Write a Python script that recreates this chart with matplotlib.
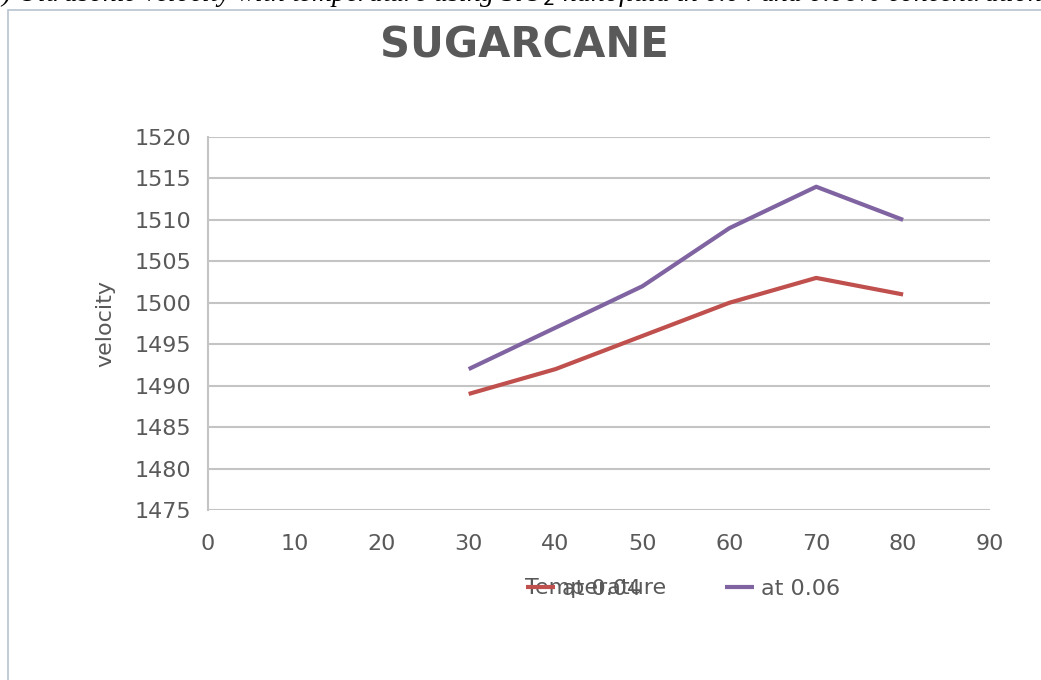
import matplotlib
matplotlib.use("Agg")
import matplotlib.pyplot as plt
from matplotlib.patches import Rectangle

temperature = [30, 40, 50, 60, 70, 80]
vel_004 = [1489, 1492, 1496, 1500, 1503, 1501]
vel_006 = [1492, 1497, 1502, 1509, 1514, 1510]
series_labels = ["at 0.04", "at 0.06"]
x_ticks = [0, 10, 20, 30, 40, 50, 60, 70, 80, 90]
y_ticks = [1475, 1480, 1485, 1490, 1495, 1500, 1505, 1510, 1515, 1520]

TXT = "#595959"
GRID = "#c4c4c4"

fig = plt.figure(figsize=(10.41, 6.8), dpi=100)
fig.patch.set_facecolor("white")

# chart border
fig.add_artist(Rectangle((8/1041, -0.01), 1.1, (680-10)/680 + 0.01, transform=fig.transFigure,
                         fill=False, edgecolor="#b8c4d0", linewidth=1.2))

# cropped caption at top
fig.text(0.0, 1.0 + 6/680, ") Ultrasonic velocity with temperature using SiO$_2$ nanofluid in 0.04 and 0.06% concentration",
         family="Liberation Serif", style="italic", fontsize=20, ha="left", va="center", color="black")

ax = fig.add_axes([208/1041, (680-510)/680, (990-208)/1041, (510-137)/680])
l1, = ax.plot(temperature, vel_004, color="#C0504D", linewidth=3, solid_capstyle="butt")
l2, = ax.plot(temperature, vel_006, color="#8064A2", linewidth=3, solid_capstyle="butt")

ax.set_xlim(0, 90)
ax.set_ylim(1475, 1520)
ax.set_xticks(x_ticks)
ax.set_yticks(y_ticks)
ax.grid(axis="y", color=GRID, linewidth=1.5)
ax.set_axisbelow(True)
for s in ["top", "right", "bottom"]:
    ax.spines[s].set_visible(False)
ax.spines["left"].set_color(GRID)
ax.spines["left"].set_linewidth(1.5)
ax.tick_params(axis="both", length=0, labelsize=16, labelcolor=TXT)
ax.tick_params(axis="x", pad=17)
ax.tick_params(axis="y", pad=12)

ax.set_ylabel("velocity", fontsize=16, color=TXT, labelpad=14)

fig.text(524/1041, 1 - 45/680, "SUGARCANE", fontsize=30, fontweight="bold", color=TXT,
         ha="center", va="center")

fig.text(596/1041, 1 - 588/680, "Temperature", fontsize=16, color=TXT, ha="center", va="center")

leg = fig.legend([l1, l2], series_labels, loc="center", bbox_to_anchor=(683/1041, 1 - 589/680),
                 ncol=2, frameon=False, fontsize=16, handlelength=1.3, handletextpad=0.3,
                 columnspacing=3.8, labelcolor=TXT)

fig.savefig("out.png", dpi=100, facecolor="white")
